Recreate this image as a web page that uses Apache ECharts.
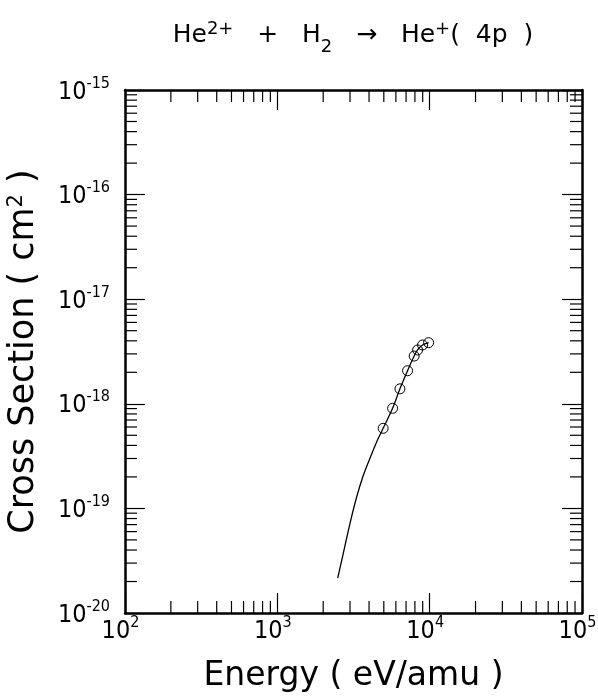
<!DOCTYPE html>
<html>
<head>
<meta charset="utf-8">
<script src="https://cdn.jsdelivr.net/npm/echarts@6/dist/echarts.min.js"></script>
<style>html,body{margin:0;padding:0;background:#fff;}#c{width:598px;height:696px;}</style>
</head>
<body>
<div id="c"></div>
<script>
// Curve (energy in eV/amu, cross section in cm^2)
var lineEnergy = [2490, 2710, 3000, 3310, 3660, 4050, 4480, 4830, 4950, 5710, 6380, 7160, 7910, 8330, 8980, 9840];
var lineCross  = [2.15e-20, 3.72e-20, 7.2e-20, 1.27e-19, 2.05e-19, 3.0e-19, 4.3e-19, 5.4e-19, 5.83e-19, 9.06e-19, 1.39e-18, 2.07e-18, 2.86e-18, 3.27e-18, 3.65e-18, 3.84e-18];
// Measured points (open circles)
var pointEnergy = [4950, 5710, 6380, 7160, 7910, 8330, 8980, 9840];
var pointCross  = [5.83e-19, 9.06e-19, 1.39e-18, 2.07e-18, 2.86e-18, 3.27e-18, 3.65e-18, 3.84e-18];
// Tick label exponents
var xTickExps = [2, 3, 4, 5];
var yTickExps = [-20, -19, -18, -17, -16, -15];

var FONT = "'DejaVu Sans Condensed', 'DejaVu Sans', sans-serif";
var FONT2 = "'DejaVu Sans', sans-serif";
var xMin = Math.pow(10, xTickExps[0]), xMax = Math.pow(10, xTickExps[xTickExps.length - 1]);
var yMin = Math.pow(10, yTickExps[0]), yMax = Math.pow(10, yTickExps[yTickExps.length - 1]);

function pow10Label(v) {
  var e = Math.round(Math.log10(v));
  return '{b|10}{s|' + e + '}';
}
var labelRich = {
  b: { fontSize: 25, fontFamily: FONT, color: '#000', lineHeight: 29, verticalAlign: 'bottom' },
  s: { fontSize: 16, fontFamily: FONT, color: '#000', lineHeight: 16, verticalAlign: 'top' }
};

// minor tick data: [x, y, kind]  kind 0 -> x tick, kind 1 -> y tick
var minorData = [];
for (var i = 0; i < xTickExps.length - 1; i++) {
  for (var m = 2; m <= 9; m++) minorData.push([m * Math.pow(10, xTickExps[i]), 1e-18, 0]);
}
for (var j = 0; j < yTickExps.length - 1; j++) {
  for (var k = 2; k <= 9; k++) minorData.push([1000, k * Math.pow(10, yTickExps[j]), 1]);
}

var lineData = lineEnergy.map(function (e, i) { return [e, lineCross[i]]; });
var pointData = pointEnergy.map(function (e, i) { return [e, pointCross[i]]; });

var axisCommon = {
  axisLine: { show: true, lineStyle: { color: '#000', width: 2.5 } },
  axisTick: { show: true, inside: true, length: 20, lineStyle: { color: '#000', width: 1.2 } },
  splitLine: { show: false },
  minorTick: { show: false }
};

var chart = echarts.init(document.getElementById('c'), null, { renderer: 'canvas' });
chart.setOption({
  animation: false,
  backgroundColor: '#fff',
  title: {
    text: 'He{sup|2+}   +   H{sub|2}   →   He{sup|+}(  4p  )',
    left: 348, top: 15, textAlign: 'center',
    textStyle: {
      fontSize: 25, fontFamily: FONT2, fontWeight: 'normal', color: '#000', lineHeight: 30,
      rich: {
        sup: { fontSize: 18, fontFamily: FONT2, color: '#000', verticalAlign: 'top', lineHeight: 18 },
        sub: { fontSize: 18, fontFamily: FONT2, color: '#000', verticalAlign: 'bottom', lineHeight: 18, padding: [0, 0, -6, 0] }
      }
    }
  },
  grid: { left: 125, right: 16, top: 90, bottom: 83, containLabel: false, outerBoundsMode: 'none' },
  xAxis: [
    Object.assign({
      type: 'log', logBase: 10, min: xMin, max: xMax, position: 'bottom',
      name: 'Energy ( eV/amu )', nameLocation: 'middle', nameGap: 47,
      nameTextStyle: { fontSize: 33, fontFamily: FONT2, color: '#000' },
      axisLabel: { formatter: pow10Label, rich: labelRich, margin: 2, color: '#000', padding: [0, 9, 0, 0] }
    }, axisCommon),
    Object.assign({
      type: 'log', logBase: 10, min: xMin, max: xMax, position: 'top',
      axisLabel: { show: false }
    }, axisCommon)
  ],
  yAxis: [
    Object.assign({
      type: 'log', logBase: 10, min: yMin, max: yMax, position: 'left',
      name: 'Cross Section ( cm{s|2} )', nameLocation: 'middle', nameGap: 83, nameRotate: 90,
      nameTextStyle: {
        fontSize: 35, fontFamily: FONT2, color: '#000', lineHeight: 36,
        rich: { s: { fontSize: 21, fontFamily: FONT2, color: '#000', verticalAlign: 'top', lineHeight: 21 } }
      },
      axisLabel: { formatter: pow10Label, rich: labelRich, margin: 15, color: '#000' }
    }, axisCommon),
    Object.assign({
      type: 'log', logBase: 10, min: yMin, max: yMax, position: 'right',
      axisLabel: { show: false }
    }, axisCommon)
  ],
  series: [
    {
      type: 'line', data: lineData, xAxisIndex: 0, yAxisIndex: 0,
      showSymbol: false, symbol: 'none', smooth: 0.3,
      lineStyle: { color: '#000', width: 1.3 }, silent: true
    },
    {
      type: 'scatter', data: pointData, xAxisIndex: 0, yAxisIndex: 0,
      symbol: 'circle', symbolSize: 10, z: 5,
      itemStyle: { color: 'rgba(0,0,0,0)', borderColor: '#000', borderWidth: 1, opacity: 1 }, silent: true
    },
    {
      type: 'custom', data: minorData, xAxisIndex: 0, yAxisIndex: 0, silent: true, clip: false,
      renderItem: function (params, api) {
        var cs = params.coordSys;
        var kind = api.value(2);
        var L = 12;
        var st = { stroke: '#000', lineWidth: 1.2 };
        if (kind === 0) {
          var px = api.coord([api.value(0), 1e-18])[0];
          return { type: 'group', children: [
            { type: 'line', shape: { x1: px, y1: cs.y + cs.height, x2: px, y2: cs.y + cs.height - L }, style: st },
            { type: 'line', shape: { x1: px, y1: cs.y, x2: px, y2: cs.y + L }, style: st }
          ]};
        } else {
          var py = api.coord([1000, api.value(1)])[1];
          return { type: 'group', children: [
            { type: 'line', shape: { x1: cs.x, y1: py, x2: cs.x + L, y2: py }, style: st },
            { type: 'line', shape: { x1: cs.x + cs.width, y1: py, x2: cs.x + cs.width - L, y2: py }, style: st }
          ]};
        }
      }
    }
  ]
});
</script>
</body>
</html>
